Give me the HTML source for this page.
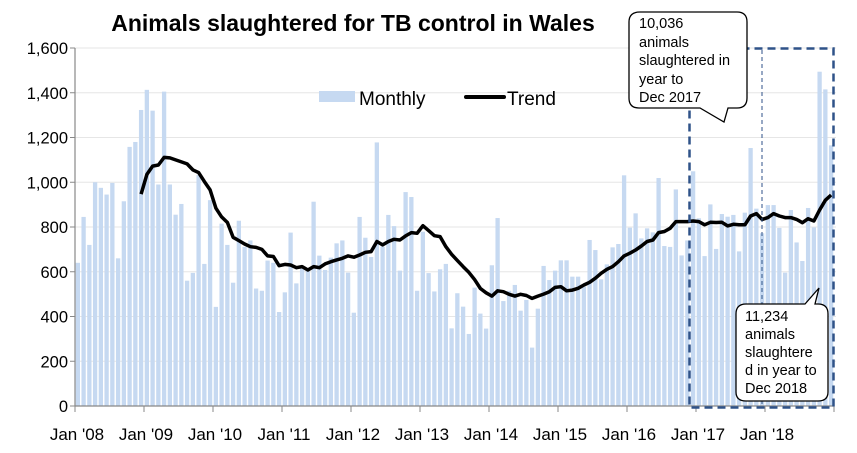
<!DOCTYPE html>
<html><head><meta charset="utf-8"><style>
html,body{margin:0;padding:0;background:#fff;}
svg{display:block;font-family:"Liberation Sans",Arial,sans-serif;}
</style></head><body>
<svg id="c" width="857" height="453" viewBox="0 0 857 453" xmlns="http://www.w3.org/2000/svg">
<rect width="857" height="453" fill="#fff"/>
<g id="grid"></g>
<g id="bars"></g>
<path id="trend" fill="none" stroke="#000" stroke-width="3.5" stroke-linejoin="round"/>
<g id="axes"></g>
<text x="353" y="31" text-anchor="middle" font-size="23" font-weight="bold">Animals slaughtered for TB control in Wales</text>
<rect x="319" y="91" width="36" height="11" fill="#c6d9f1"/>
<text x="359" y="105" font-size="19">Monthly</text>
<line x1="466" y1="97" x2="504" y2="97" stroke="#000" stroke-width="4" stroke-linecap="round"/>
<text x="507" y="105" font-size="19">Trend</text>
<rect x="689.5" y="48.5" width="144" height="359" fill="none" stroke="#2f5288" stroke-width="2.5" stroke-dasharray="8,5"/>
<line x1="762" y1="50" x2="762" y2="406" stroke="#2f5288" stroke-width="1" stroke-dasharray="4,3"/>
<path d="M640,12 H737 Q747,12 747,22 V98 Q747,108 737,108 H728 L724,122 L700,108 H639 Q629,108 629,98 V22 Q629,12 640,12 Z" fill="#fff" stroke="#000" stroke-width="1.3"/>
<g font-size="14.5" fill="#000">
<text x="639" y="28">10,036</text><text x="639" y="47">animals</text><text x="639" y="65">slaughtered in</text><text x="639" y="84">year to</text><text x="639" y="102">Dec 2017</text>
</g>
<path d="M746,304 H805 L819,288 L815,304 H818 Q828,304 828,314 V392 Q828,401 818,401 H746 Q736,401 736,392 V314 Q736,304 746,304 Z" fill="#fff" stroke="#000" stroke-width="1.3"/>
<g font-size="14.5" fill="#000">
<text x="745" y="321">11,234</text><text x="745" y="339">animals</text><text x="745" y="357">slaughtere</text><text x="745" y="375">d in year to</text><text x="745" y="393">Dec 2018</text>
</g>
</svg>
<script>
var bars=[640,845,720,1000,975,945,997,660,915,1158,1180,1323,
1413,1320,990,1405,990,855,903,560,595,1032,635,920,
443,815,720,551,828,711,740,525,515,650,640,420,
508,775,548,614,614,
913,672,608,663,727,740,596,417,845,752,666,1178,712,854,804,605,956,934,515,779,594,512,611,635,347,504,444,322,529,413,346,629,840,469,515,541,426,474,261,435,626,563,605,651,651,578,
578,533,742,697,566,633,709,724,1031,797,861,749,794,776,1019,715,711,968,673,740,1049,839,670,901,702,858,846,854,691,864,1153,882,772,898,898,796,596,876,731,648,885,798,1494,1415,1165];
var trend=[947,1035,1072,1077,1111,1109,1100,1091,1082,1055,1043,1003,966,884,845,820,754,739,724,712,709,700,671,668,627,633,630,618,623,608,623,618,
635,645,653,660,671,665,675,687,690,735,720,735,745,742,760,775,772,806,784,761,757,712,678,650,623,597,565,525,506,491,515,511,499,491,499,494,481,491,500,511,530,533,515,518,
526,541,553,571,593,611,623,645,671,683,697,715,735,742,775,780,794,824,824,824,827,824,810,821,820,821,805,812,810,810,849,860,834,842,860,849,842,842,834,819,837,827,876,920,943];
var NS="http://www.w3.org/2000/svg",x0=75,y0=406,mw=5.75,k=358/1600;
function el(t,a,p,txt){var e=document.createElementNS(NS,t);for(var n in a)e.setAttribute(n,a[n]);if(txt!=null)e.textContent=txt;document.getElementById(p).appendChild(e);return e;}
for(var v=0;v<=1600;v+=200){var y=y0-v*k;
 if(v>0)el('line',{x1:x0,x2:836,y1:y,y2:y,stroke:'#e6e6e6','stroke-width':1},'grid');
 el('line',{x1:x0-5,x2:x0,y1:y,y2:y,stroke:'#888','stroke-width':1},'axes');
 el('text',{x:68,y:y+6,'text-anchor':'end','font-size':16.5},'axes',v.toLocaleString('en-US'));}
for(var i=0;i<bars.length;i++){var h=bars[i]*k;el('rect',{x:x0+i*mw+0.7,y:y0-h,width:4.3,height:h,fill:'#c6d9f1'},'bars');}
var d='';for(var j=0;j<trend.length;j++){var x=x0+(j+11.5)*mw,y=y0-trend[j]*k;d+=(j?'L':'M')+x.toFixed(1)+','+y.toFixed(1);}
document.getElementById('trend').setAttribute('d',d);
el('line',{x1:x0,x2:x0,y1:48,y2:y0,stroke:'#888','stroke-width':1.2},'axes');
el('line',{x1:x0,x2:834,y1:y0,y2:y0,stroke:'#888','stroke-width':1.2},'axes');
var yrs=['08','09','10','11','12','13','14','15','16','17','18'];
for(var m=0;m<=11;m++){var x=x0+m*12*mw;el('line',{x1:x,x2:x,y1:y0,y2:y0+6,stroke:'#888','stroke-width':1},'axes');
 if(m<11)el('text',{x:x+2,y:440,'text-anchor':'middle','font-size':17},'axes',"Jan '"+yrs[m]);}
</script>
</body></html>
